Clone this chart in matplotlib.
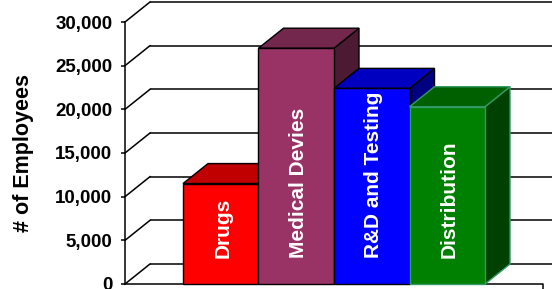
import matplotlib
matplotlib.use("Agg")
import matplotlib.pyplot as plt
from matplotlib.patches import Polygon
from matplotlib.ticker import FuncFormatter

categories = ["Drugs", "Medical Devies", "R&D and Testing", "Distribution"]
values = [11500, 27000, 22400, 20300]
front_colors = ["#FF0000", "#993366", "#0000FF", "#008000"]
top_colors = ["#C00000", "#73274D", "#0000C0", "#006000"]
side_colors = ["#900000", "#4D1A33", "#000080", "#004000"]
edge_colors = ["black", "black", "black", "#339966"]
yticks = [0, 5000, 10000, 15000, 20000, 25000, 30000]

W, H = 552, 289
fig = plt.figure(figsize=(W / 100, H / 100), dpi=100)
ax_left, ax_right, ax_top, ax_bottom = 125, 543, 22, 284
ax = fig.add_axes([ax_left / W, (H - ax_bottom) / H, (ax_right - ax_left) / W, (ax_bottom - ax_top) / H])
ax.patch.set_visible(False)

gap = 0.768
xmin, xmax = -0.5 - gap, len(values) - 0.5 + gap
ax.set_xlim(xmin, xmax)
ax.set_ylim(0, 30000)

# depth offsets (pixels -> data units)
dpx, dpy = 25, 20
ddx = dpx * (xmax - xmin) / (ax_right - ax_left)
ddy = dpy * 30000 / (ax_bottom - ax_top)

fname = "Liberation Sans"

# walls gridlines
for v in yticks:
    ax.plot([xmin + ddx, xmax + ddx + 1], [v + ddy, v + ddy], color="black", lw=1.1,
            clip_on=False, zorder=1, solid_capstyle="butt")
    ax.plot([xmin, xmin + ddx], [v, v + ddy], color="black", lw=1.1,
            clip_on=False, zorder=1)

# floor front edge
ax.plot([xmin, xmax, xmax], [0, 0, -3000], color="black", lw=1.1, clip_on=False, zorder=2)

z = 3
for i, (v, fc, tc, sc, ec) in enumerate(zip(values, front_colors, top_colors, side_colors, edge_colors)):
    l, r = i - 0.5, i + 0.5
    side = Polygon([(r, 0), (r, v), (r + ddx, v + ddy), (r + ddx, ddy)], closed=True,
                   facecolor=sc, edgecolor=ec, lw=1.0, clip_on=False, zorder=z)
    top = Polygon([(l, v), (r, v), (r + ddx, v + ddy), (l + ddx, v + ddy)], closed=True,
                  facecolor=tc, edgecolor=ec, lw=1.0, clip_on=False, zorder=z + 0.1)
    ax.add_patch(side)
    ax.add_patch(top)
    ax.bar([i], [v], width=1.0, color=fc, edgecolor=ec, lw=1.0, zorder=z + 0.2, clip_on=False)
    ax.annotate(categories[i], xy=(i, 0), xytext=(1.5, 18.5), textcoords="offset points",
                rotation=90, ha="center", va="bottom", color="white",
                fontsize=15, fontweight="bold", family=fname, zorder=z + 0.3)
    z += 1

for s in ["top", "right", "bottom"]:
    ax.spines[s].set_visible(False)
ax.spines["left"].set_linewidth(1.1)
ax.set_xticks([])
ax.set_yticks(yticks)
ax.yaxis.set_major_formatter(FuncFormatter(lambda v, p: f"{int(v):,}"))
ax.tick_params(axis="y", length=3, width=1.1, pad=6)
for t in ax.get_yticklabels():
    t.set_fontfamily(fname)
    t.set_fontweight("bold")
    t.set_fontsize(13.5)

fig.text(24 / W, 1 - 152.5 / H, "# of Employees", rotation=90, ha="center", va="center",
         fontsize=15.5, fontweight="bold", family=fname)

fig.savefig("out.png", dpi=100)
